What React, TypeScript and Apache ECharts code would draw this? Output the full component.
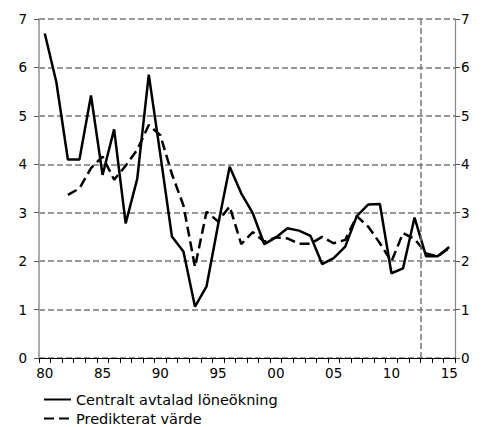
import React, { useEffect, useRef } from "react";
import * as echarts from "echarts";

const years: number[] = [];
for (let y = 1980; y <= 2015; y++) years.push(y);

const avtalad: (number | null)[] = [
  6.7, 5.7, 4.1, 4.1, 5.42, 3.78, 4.72, 2.78, 3.7, 5.85,
  4.2, 2.51, 2.2, 1.06, 1.48, 2.75, 3.95, 3.4, 2.99, 2.35,
  2.49, 2.68, 2.63, 2.52, 1.94, 2.06, 2.3, 2.93, 3.17, 3.18,
  1.75, 1.85, 2.9, 2.1, 2.1, 2.29,
];

const predikterat: (number | null)[] = [
  null, null, 3.37, 3.5, 3.92, 4.16, 3.68, 3.97, 4.3, 4.81,
  4.6, 3.8, 3.15, 1.88, 3.02, 2.82, 3.13, 2.35, 2.6, 2.4,
  2.49, 2.47, 2.36, 2.36, 2.5, 2.37, 2.44, 2.93, 2.71, 2.37,
  1.99, 2.58, 2.46, 2.16, 2.1, 2.27,
];

// boundary between 2012 and 2013 (forecast start)
const forecastBoundary = 2012.5;

const yTicks = { min: 0, max: 7, interval: 1 };
const FONT = "DejaVu Sans";

export default function App() {
  const ref = useRef<HTMLDivElement>(null);
  useEffect(() => {
    if (!ref.current) return;
    const chart = echarts.init(ref.current, undefined, { renderer: "svg" });
    chart.setOption({
      animation: false,
      textStyle: { fontFamily: FONT },
      grid: { left: 39, right: 31, top: 19, bottom: 69, containLabel: false },
      legend: {
        orient: "vertical",
        left: 43,
        top: 392,
        padding: 0,
        height: 40,
        itemWidth: 27,
        itemHeight: 14,
        itemGap: 4,
        itemStyle: { opacity: 0 },
        textStyle: { fontFamily: FONT, fontSize: 14.5, color: "#000" },
        data: ["Centralt avtalad löneökning", "Predikterat värde"],
      },
      xAxis: [
        {
          type: "category",
          data: years.map(String),
          boundaryGap: true,
          axisLine: { show: true, lineStyle: { color: "#000", width: 1 } },
          axisTick: { show: true, interval: 0, length: 5, lineStyle: { color: "#000" } },
          axisLabel: {
            interval: 4,
            margin: 8,
            fontSize: 13.5,
            fontFamily: FONT,
            color: "#000",
            formatter: (v: string) => v.slice(2),
          },
          splitLine: { show: false },
        },
        {
          type: "value",
          show: false,
          min: years[0] - 0.5,
          max: years[years.length - 1] + 0.5,
          splitLine: { show: false },
        },
      ],
      yAxis: [
        {
          type: "value",
          position: "left",
          ...yTicks,
          axisLine: { show: true, lineStyle: { color: "#aaa", width: 2 } },
          axisTick: { show: true, length: 5, lineStyle: { color: "#555" } },
          axisLabel: { margin: 12, fontSize: 13.5, fontFamily: FONT, color: "#000" },
          splitLine: { show: true, lineStyle: { color: "#777", type: [6, 3], width: 1.5 } },
        },
        {
          type: "value",
          position: "right",
          ...yTicks,
          axisLine: { show: true, lineStyle: { color: "#888", width: 1.2 } },
          axisTick: { show: true, length: 5, lineStyle: { color: "#555" } },
          axisLabel: { margin: 6, fontSize: 13.5, fontFamily: FONT, color: "#000" },
          splitLine: { show: false },
        },
      ],
      series: [
        {
          name: "Centralt avtalad löneökning",
          type: "line",
          data: avtalad,
          symbol: "none",
          showSymbol: false,
          lineStyle: { color: "#000", width: 2.5, type: "solid" },
          itemStyle: { color: "#000" },
          z: 3,
        },
        {
          name: "Predikterat värde",
          type: "line",
          data: predikterat,
          symbol: "none",
          showSymbol: false,
          lineStyle: { color: "#000", width: 2.5, type: [10, 5] },
          itemStyle: { color: "#000" },
          z: 4,
        },
        {
          name: "forecast",
          type: "line",
          xAxisIndex: 1,
          yAxisIndex: 0,
          data: [],
          symbol: "none",
          silent: true,
          z: 1,
          markLine: {
            silent: true,
            symbol: "none",
            label: { show: false },
            lineStyle: { color: "#777", type: [6, 3], width: 1.5 },
            data: [{ xAxis: forecastBoundary }],
          },
        },
      ],
    });
    return () => chart.dispose();
  }, []);
  return <div ref={ref} style={{ width: 486, height: 427, position: "absolute", left: 0, top: 0 }} />;
}
